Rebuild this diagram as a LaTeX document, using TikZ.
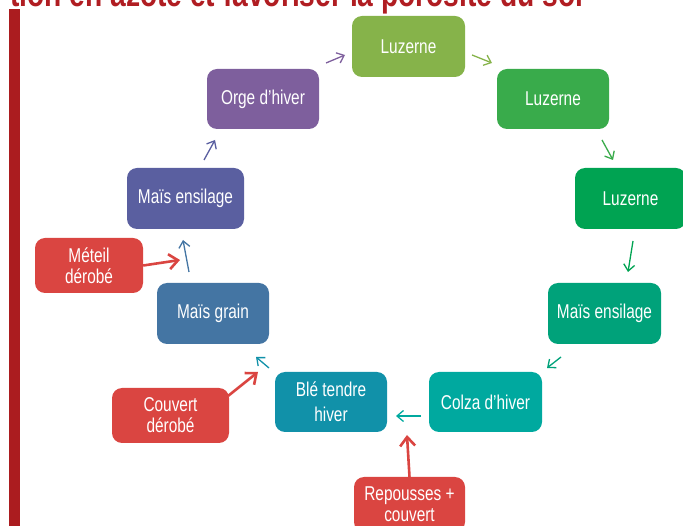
\documentclass[tikz,border=0pt]{standalone}
\usepackage{fontspec}
\setmainfont{Liberation Sans}[FakeStretch=0.77]
\usetikzlibrary{arrows.meta}
\definecolor{cLa}{HTML}{86B34A}
\definecolor{cLb}{HTML}{39AB4B}
\definecolor{cLc}{HTML}{00A352}
\definecolor{cMER}{HTML}{00A27A}
\definecolor{cCol}{HTML}{00A99F}
\definecolor{cBle}{HTML}{1191A9}
\definecolor{cMG}{HTML}{4475A3}
\definecolor{cMEL}{HTML}{5A5FA0}
\definecolor{cOrg}{HTML}{7E5F9D}
\definecolor{cRed}{HTML}{DA4541}
\definecolor{cBar}{HTML}{AB1C1F}
\definecolor{cTitle}{HTML}{B01D22}
\tikzset{
  crop/.style={draw=none, rounded corners=10pt, text=white, align=center,
    font=\fontsize{20}{21}\selectfont, inner sep=0pt},
  thinarrow/.style={line width=1.3pt, -{Straight Barb[length=6.5pt,width=11pt]}},
  redarrow/.style={cRed, line width=2.6pt, -{Straight Barb[length=9pt,width=15pt,line width=2.6pt]}}
}
\begin{document}
\begin{tikzpicture}[x=1pt,y=-1pt]
\useasboundingbox (0,0) rectangle (683,526);
\clip (0,0) rectangle (683,526);
% title (cut off by the top edge) and bar
\node[anchor=base west, inner sep=0pt, text=cTitle] (title) at (10,7)
  {\resizebox{573pt}{!}{\bfseries tion en azote et favoriser la porosité du sol}};
\fill[cBar] (9,9) rectangle (20,530);
% boxes
\node[crop, fill=cLa, minimum width=113pt, minimum height=61pt] (l1) at (408.5,46.5) {Luzerne};
\node[crop, fill=cLb, minimum width=112pt, minimum height=60pt] (l2) at (553,99) {Luzerne};
\node[crop, fill=cLc, minimum width=111pt, minimum height=61pt] (l3) at (630.5,198.5) {Luzerne};
\node[crop, fill=cMER, minimum width=113pt, minimum height=61pt] (mer) at (604.5,313.5) {Maïs ensilage};
\node[crop, fill=cCol, minimum width=113pt, minimum height=60pt] (col) at (485.5,402) {Colza d'hiver};
\node[crop, fill=cBle, minimum width=112pt, minimum height=60pt, font=\fontsize{20}{25}\selectfont] (ble) at (331,402) {Blé tendre\\hiver};
\node[crop, fill=cMG, minimum width=112pt, minimum height=61pt] (mg) at (213,313.5) {Maïs grain};
\node[crop, fill=cMEL, minimum width=117pt, minimum height=61pt] (mel) at (185.5,198.5) {Maïs ensilage};
\node[crop, fill=cOrg, minimum width=112pt, minimum height=60pt] (org) at (263,99) {Orge d'hiver};
\node[crop, fill=cRed, minimum width=108pt, minimum height=55pt] (met) at (89,265.5) {Méteil\\dérobé};
\node[crop, fill=cRed, minimum width=117pt, minimum height=55pt] (cou) at (170.5,415.5) {Couvert\\dérobé};
\node[crop, fill=cRed, minimum width=111pt, minimum height=55pt] (rep) at (409.5,504.5) {Repousses +\\couvert};
% arrow end points
\coordinate (a1s) at (326,63);  \coordinate (a1e) at (345,55);
\coordinate (a2s) at (472,55);  \coordinate (a2e) at (492,63);
\coordinate (a3s) at (602,140); \coordinate (a3e) at (613,160);
\coordinate (a4s) at (633,241); \coordinate (a4e) at (628,272);
\coordinate (a5s) at (561,357); \coordinate (a5e) at (547,368);
\coordinate (a6s) at (421,416); \coordinate (a6e) at (396,416);
\coordinate (a7e) at (407,435);
\coordinate (a8s) at (269,368); \coordinate (a8e) at (256,357);
\coordinate (a9s) at (228,396); \coordinate (a9e) at (258,372);
\coordinate (a10s) at (189,272); \coordinate (a10e) at (183,240);
\coordinate (a11e) at (180,260);
\coordinate (a12s) at (204,160); \coordinate (a12e) at (215,140);
% connectors
\draw[thinarrow, cOrg] (a1s) -- (a1e);
\draw[thinarrow, cLa] (a2s) -- (a2e);
\draw[thinarrow, cLb] (a3s) -- (a3e);
\draw[thinarrow, cLc] (a4s) -- (a4e);
\draw[thinarrow, cMER] (a5s) -- (a5e);
\draw[thinarrow, cCol] (a6s) -- (a6e);
\draw[redarrow] (rep.north) -- (a7e);
\draw[thinarrow, cBle] (a8s) -- (a8e);
\draw[redarrow] (a9s) -- (a9e);
\draw[thinarrow, cMG] (a10s) -- (a10e);
\draw[redarrow] (met.east) -- (a11e);
\draw[thinarrow, cMEL] (a12s) -- (a12e);
\end{tikzpicture}
\end{document}
